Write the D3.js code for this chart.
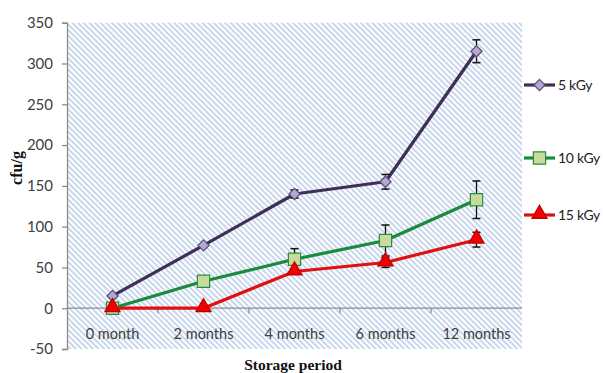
<!DOCTYPE html>
<html>
<head>
<meta charset="utf-8">
<script src="https://cdn.jsdelivr.net/npm/d3@7"></script>
<style>
  html, body { margin: 0; padding: 0; background: #fff; }
  svg { display: block; }
</style>
</head>
<body>
<svg id="chart" width="603" height="373"></svg>
<script>
// Storage periods (x categories)
const periods = ["0 month", "2 months", "4 months", "6 months", "12 months"];
// Microbial counts (cfu/g) per irradiation dose
const dose5 = [15, 77, 140, 155, 315];
const dose10 = [0, 33, 60, 83, 133];
const dose15 = [0, 0, 45, 56, 84];
// Standard deviations for error bars
const err5 = [0, 0, 5, 9, 14];
const err10 = [0, 0, 13, 19, 23];
const err15 = [0, 0, 3, 6, 9];
// Y axis ticks
const yTicks = [-50, 0, 50, 100, 150, 200, 250, 300, 350];
const seriesNames = ["5 kGy", "10 kGy", "15 kGy"];

// Diamond drawn as a rotated square so it is as wide as it is tall
const diamond = {
  draw(ctx, size) {
    const r = Math.sqrt(size / 2);
    ctx.moveTo(0, -r); ctx.lineTo(r, 0); ctx.lineTo(0, r); ctx.lineTo(-r, 0); ctx.closePath();
  }
};

const series = [
  { name: seriesNames[0], values: dose5, err: err5, line: "#3d2f55", fill: "#b4a7d0", stroke: "#5a4a7a", shape: diamond, size: 62, dy: 0 },
  { name: seriesNames[1], values: dose10, err: err10, line: "#1a8a3c", fill: "#c7dc9c", stroke: "#2d8a3e", shape: d3.symbolSquare, size: 150, dy: 0 },
  { name: seriesNames[2], values: dose15, err: err15, line: "#e01010", fill: "#f00000", stroke: "#c00000", shape: d3.symbolTriangle, size: 100, dy: -1 }
];

const svg = d3.select("#chart");
const plotLeft = 67, plotRight = 522, plotTop = 22.7, plotBottom = 349;
const labelFont = "Lato, 'Open Sans', sans-serif";

const x = d3.scaleBand().domain(periods).range([plotLeft, plotRight]).padding(0);
const y = d3.scaleLinear().domain([-50, 350]).range([plotBottom, plotTop]);

// Diagonal hatch fill for the plot area
const defs = svg.append("defs");
const pat = defs.append("pattern")
  .attr("id", "hatch")
  .attr("patternUnits", "userSpaceOnUse")
  .attr("width", 4).attr("height", 4)
  .attr("patternTransform", "rotate(45)");
pat.append("rect").attr("width", 4).attr("height", 4).attr("fill", "#ffffff");
pat.append("rect").attr("width", 4).attr("height", 2).attr("fill", "#c9d7ec");

svg.append("rect")
  .attr("x", plotLeft).attr("y", plotTop)
  .attr("width", plotRight - plotLeft).attr("height", plotBottom - plotTop)
  .attr("fill", "url(#hatch)");

// Y axis
const yAxis = d3.axisLeft(y).tickValues(yTicks).tickSize(5).tickPadding(9)
  .tickFormat(d => String(d));
const gy = svg.append("g").attr("transform", `translate(${plotLeft},0)`).call(yAxis);
gy.select(".domain").attr("stroke", "#8c8c8c").attr("stroke-width", 1.3);
gy.selectAll(".tick line").attr("stroke", "#8c8c8c").attr("stroke-width", 1.3);
gy.selectAll(".tick text")
  .attr("font-family", labelFont)
  .attr("font-size", 15).attr("fill", "#404040");

// X axis along zero
const x0 = y(0);
svg.append("line")
  .attr("x1", plotLeft).attr("x2", plotRight).attr("y1", x0).attr("y2", x0)
  .attr("stroke", "#8c8c8c").attr("stroke-width", 1.3);
const bounds = periods.slice(1).map(p => x(p));
svg.selectAll(".xtick").data(bounds).enter().append("line")
  .attr("x1", d => d).attr("x2", d => d)
  .attr("y1", x0).attr("y2", x0 + 5)
  .attr("stroke", "#8c8c8c").attr("stroke-width", 1.3);
svg.selectAll(".xlab").data(periods).enter().append("text")
  .attr("x", d => x(d) + x.bandwidth() / 2)
  .attr("y", 339)
  .attr("text-anchor", "middle")
  .attr("font-family", labelFont)
  .attr("font-size", 14.5).attr("fill", "#404040")
  .text(d => d);

// Axis titles
svg.append("text")
  .attr("x", 293).attr("y", 370)
  .attr("text-anchor", "middle")
  .attr("font-family", "'Liberation Serif', serif")
  .attr("font-weight", "bold").attr("font-size", 15.5)
  .attr("fill", "#111")
  .text("Storage period");
svg.append("text")
  .attr("transform", "translate(22,168) rotate(-90)")
  .attr("text-anchor", "middle")
  .attr("font-family", "'Liberation Serif', serif")
  .attr("font-weight", "bold").attr("font-size", 16)
  .attr("fill", "#111")
  .text("cfu/g");

const cx = d => x(d) + x.bandwidth() / 2;
const line = d3.line().x(d => cx(d.p)).y(d => y(d.v));

// Lines
series.forEach(s => {
  const pts = periods.map((p, i) => ({ p, v: s.values[i] }));
  svg.append("path").datum(pts)
    .attr("d", line)
    .attr("fill", "none")
    .attr("stroke", s.line)
    .attr("stroke-width", 3.2)
    .attr("stroke-linejoin", "round");
});

// Error bars and markers
series.forEach(s => {
  const g = svg.append("g");
  periods.forEach((p, i) => {
    const e = s.err[i];
    if (e > 0) {
      const v = s.values[i];
      const px = cx(p);
      g.append("line").attr("x1", px).attr("x2", px)
        .attr("y1", y(v + e)).attr("y2", y(v - e))
        .attr("stroke", "#111").attr("stroke-width", 1.3);
      [v + e, v - e].forEach(t => {
        g.append("line").attr("x1", px - 4).attr("x2", px + 4)
          .attr("y1", y(t)).attr("y2", y(t))
          .attr("stroke", "#111").attr("stroke-width", 1.5);
      });
    }
  });
  periods.forEach((p, i) => {
    g.append("path")
      .attr("d", d3.symbol().type(s.shape).size(s.size)())
      .attr("transform", `translate(${cx(p)},${y(s.values[i]) + s.dy})`)
      .attr("fill", s.fill)
      .attr("stroke", s.stroke)
      .attr("stroke-width", 1.2);
  });
});

// Legend
const legendY = [85, 158, 215];
series.forEach((s, i) => {
  const ly = legendY[i];
  svg.append("line").attr("x1", 524).attr("x2", 555).attr("y1", ly).attr("y2", ly)
    .attr("stroke", s.line).attr("stroke-width", 3.2);
  svg.append("path")
    .attr("d", d3.symbol().type(s.shape).size(s.size)())
    .attr("transform", `translate(539.5,${ly + s.dy})`)
    .attr("fill", s.fill).attr("stroke", s.stroke).attr("stroke-width", 1.2);
  svg.append("text")
    .attr("x", 558).attr("y", ly + 5)
    .attr("font-family", labelFont)
    .attr("font-size", 14).attr("letter-spacing", -0.3).attr("fill", "#222")
    .text(s.name);
});
</script>
</body>
</html>
